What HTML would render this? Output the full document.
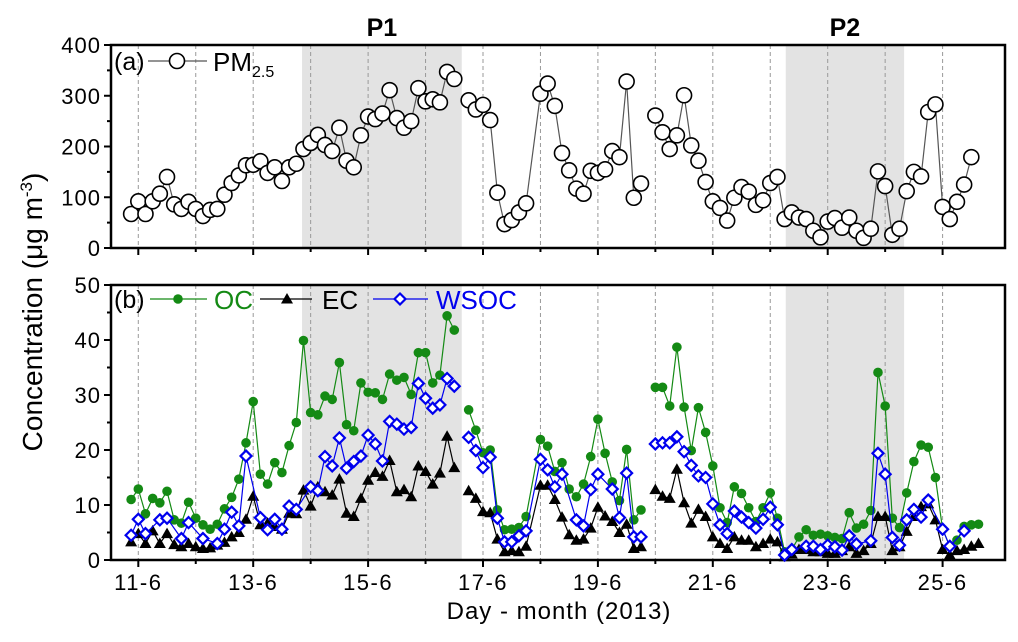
<!DOCTYPE html>
<html><head><meta charset="utf-8"><style>
html,body{margin:0;padding:0;background:#fff;}
svg{display:block;font-family:"Liberation Sans",Arial,sans-serif;}
</style></head><body>
<svg id="chart" width="1018" height="642" viewBox="0 0 1018 642" xmlns="http://www.w3.org/2000/svg"></svg>
<script>
const pm25 = [67,92,67,92,107,140,86,77,91,77,63,75,77,105,128,143,163,164,171,148,159,132,159,166,195,207,223,203,191,237,172,159,222,259,254,265,311,256,237,250,315,289,293,287,347,333,null,291,273,282,252,109,47,55,70,88,null,304,324,280,187,153,117,107,152,148,155,191,179,328,99,127,null,261,228,195,222,301,202,172,130,92,79,54,99,120,111,85,94,128,140,57,70,60,57,34,21,52,59,40,60,34,20,38,151,122,26,38,112,150,141,268,283,81,57,91,125,179];
const oc = [11.0,12.9,8.4,11.2,10.4,12.5,7.3,6.7,10.5,7.6,6.4,5.6,6.5,9.3,11.4,14.7,21.3,28.8,15.6,13.8,17.7,15.9,20.8,25.0,39.9,26.8,26.4,29.8,29.2,35.9,24.6,23.5,32.2,30.5,30.4,29.2,33.8,32.7,33.2,30.1,37.7,37.7,32.2,33.6,44.4,41.8,null,27.3,23.6,19.5,20.0,9.1,5.5,5.6,5.9,7.9,null,21.9,20.7,16.1,17.7,12.9,11.5,13.8,18.8,25.6,19.4,14.2,10.8,20.1,7.3,9.1,null,31.4,31.4,28.0,38.7,27.8,19.9,27.7,23.2,17.1,9.5,6.8,13.3,12.1,9.5,7.0,9.5,12.2,7.6,1.5,1.9,4.2,5.5,4.5,4.7,4.4,4.1,3.9,8.6,5.8,6.5,9.0,34.1,28.0,7.6,5.9,12.2,17.9,20.9,20.5,15.0,5.6,2.5,3.6,6.1,6.4,6.5];
const ec = [3.3,4.8,3.0,5.3,3.0,4.8,2.8,2.4,3.0,2.4,2.1,2.2,2.7,3.2,4.2,5.0,7.4,11.6,6.4,6.7,6.1,5.6,8.5,8.4,12.7,9.8,13.3,12.4,11.8,14.7,8.5,7.9,11.2,14.5,15.9,15.2,18.1,12.4,12.8,11.5,17.1,16.1,13.8,15.8,22.5,16.8,null,12.6,11.2,8.8,8.6,3.8,1.5,1.7,1.5,2.5,null,13.6,13.6,11.0,7.8,4.6,3.6,3.8,5.8,9.6,8.0,7.0,5.0,6.5,2.1,2.4,null,12.8,11.6,11.2,16.5,10.4,6.7,9.2,7.9,4.2,3.0,2.1,4.2,3.6,3.6,2.4,3.0,3.8,3.3,0.6,1.1,1.9,1.9,1.5,1.5,1.2,1.2,1.7,2.4,1.2,1.7,3.0,7.9,7.9,1.7,2.4,5.2,7.9,9.7,10.2,7.3,1.9,0.9,1.7,1.9,2.5,3.0];
const wsoc = [4.5,7.4,4.8,null,7.3,7.6,null,3.9,6.8,null,3.9,null,3.0,5.6,8.7,6.2,18.9,null,7.7,5.5,7.4,5.6,9.8,9.2,null,13.3,12.6,18.8,17.1,22.2,16.7,17.9,18.9,22.7,21.1,18.0,25.2,24.7,23.8,24.1,32.1,29.4,27.6,28.2,33.0,31.6,null,22.3,19.9,16.8,18.7,7.6,3.3,3.3,4.4,5.3,null,18.3,16.4,13.3,15.6,null,7.3,6.2,12.8,15.6,null,12.9,7.7,15.8,4.2,4.2,null,21.1,21.3,21.3,22.4,19.7,17.2,15.3,15.0,10.2,6.4,4.8,8.9,7.8,6.8,5.8,7.4,9.6,6.4,0.9,1.9,null,2.5,2.5,1.9,2.7,2.4,1.8,4.4,2.9,null,3.5,19.4,15.6,4.1,2.7,7.3,9.2,7.8,10.9,null,5.6,2.5,null,5.3,null,null];
const gapIdx = [46,72];
const dayLabels = ["11-6","13-6","15-6","17-6","19-6","21-6","23-6","25-6"];
const pmTicks = [0,100,200,300,400];
const concTicks = [0,10,20,30,40,50];
const periods = [{name:"P1",start:2.85,end:5.63},{name:"P2",start:11.27,end:13.33}];

const NS="http://www.w3.org/2000/svg";
const svg=document.getElementById('chart');
function el(tag,attrs,parent){const e=document.createElementNS(NS,tag);for(const k in attrs)e.setAttribute(k,attrs[k]);(parent||svg).appendChild(e);return e;}
const L=111,R=1005;
const topP={y0:45,y1:248,max:400};
const botP={y0:285,y1:560,max:50};
function xDay(t){return 138.3+57.45*t;}
function xIdx(i){return xDay((i-1)/8);}
function yTop(v){return topP.y1-(topP.y1-topP.y0)*v/topP.max;}
function yBot(v){return botP.y1-(botP.y1-botP.y0)*v/botP.max;}

function panel(P,name){
  const g=el('g',{});
  
  
  periods.forEach(p=>{
    const r=el('rect',{x:xDay(p.start),y:P.y0,width:xDay(p.end)-xDay(p.start),height:P.y1-P.y0,fill:'#e3e3e3'},g);
    
    
  });
  for(let d=0;d<15;d++){
    const x=xDay(d);
    const ln=el('line',{x1:x,x2:x,y1:P.y0,y2:P.y1,stroke:'#999','stroke-width':1,'stroke-dasharray':'4,3'},g);
    
    
    el('line',{x1:x,x2:x,y1:P.y1,y2:P.y1+(d%2===0?7:4),stroke:'#000','stroke-width':2},g);
  }
  const fr=el('rect',{x:L,y:P.y0,width:R-L,height:P.y1-P.y0,fill:'none',stroke:'#000','stroke-width':2.5},g);
  
  
  return g;
}
const gTop=panel(topP,'panel-a');
const gBot=panel(botP,'panel-b');

pmTicks.forEach(v=>{
  const y=yTop(v);
  el('line',{x1:L-7,x2:L,y1:y,y2:y,stroke:'#000','stroke-width':2},gTop);
  const t=el('text',{x:L-10,y:y+8,'font-size':22,'letter-spacing':1,'text-anchor':'end'},gTop);t.textContent=v;
  
  
  if(v<400){const ym=yTop(v+50);el('line',{x1:L-4,x2:L,y1:ym,y2:ym,stroke:'#000','stroke-width':2},gTop);}
});
concTicks.forEach(v=>{
  const y=yBot(v);
  el('line',{x1:L-7,x2:L,y1:y,y2:y,stroke:'#000','stroke-width':2},gBot);
  const t=el('text',{x:L-10,y:y+8,'font-size':22,'letter-spacing':1,'text-anchor':'end'},gBot);t.textContent=v;
  
  
  if(v<50){const ym=yBot(v+5);el('line',{x1:L-4,x2:L,y1:ym,y2:ym,stroke:'#000','stroke-width':2},gBot);}
});
dayLabels.forEach((lab,k)=>{
  const t=el('text',{x:xDay(k*2),y:590,'font-size':22,'letter-spacing':1.5,'text-anchor':'middle'},gBot);t.textContent=lab;
  
  
});
periods.forEach(p=>{
  const t=el('text',{x:(xDay(p.start)+xDay(p.end))/2,y:36,'font-size':25,'font-weight':'bold','text-anchor':'middle'});t.textContent=p.name;
  
  
});

function linePath(arr,yf){
  let d='',pen=false;
  arr.forEach((v,i)=>{
    if(gapIdx.includes(i)){pen=false;return;}
    if(v===null)return;
    d+=(pen?'L':'M')+xIdx(i).toFixed(1)+','+yf(v).toFixed(1);pen=true;
  });
  return d;
}
function drawSeries(g,arr,yf,color,marker,name){
  const sg=el('g',{},g);
  
  
  el('path',{d:linePath(arr,yf),fill:'none',stroke:color,'stroke-width':1.2},sg);
  arr.forEach((v,i)=>{
    if(v===null)return;
    const m=marker(xIdx(i),yf(v),sg);
    
    
  });
}
const circleW=(x,y,g)=>el('circle',{cx:x,cy:y,r:7.5,fill:'#fff',stroke:'#000','stroke-width':1.6},g);
const dotG=(x,y,g)=>el('circle',{cx:x,cy:y,r:4.8,fill:'#148a14'},g);
const tri=(x,y,g)=>el('path',{d:`M${x},${y-6}L${x+6},${y+4.5}L${x-6},${y+4.5}Z`,fill:'#000'},g);
const dia=(x,y,g)=>el('path',{d:`M${x},${y-5.5}L${x+5.5},${y}L${x},${y+5.5}L${x-5.5},${y}Z`,fill:'#fff',stroke:'#0000ee','stroke-width':2.2},g);

drawSeries(gTop,pm25,yTop,'#555',circleW,'pm25');
drawSeries(gBot,oc,yBot,'#148a14',dotG,'oc');
drawSeries(gBot,ec,yBot,'#000',tri,'ec');
drawSeries(gBot,wsoc,yBot,'#0000ee',dia,'wsoc');

function txt(x,y,s,size,fill,name,g){const t=el('text',{x:x,y:y,'font-size':size,fill:fill},g||svg);t.textContent=s;return t;}
const lgA=el('g',{});


txt(114,70,'(a)',25,'#000','panel-label-a',lgA);
el('line',{x1:148,x2:207,y1:61,y2:61,stroke:'#555','stroke-width':1.2},lgA);
circleW(177,61,lgA);
const pmT=txt(213,71,'PM',26,'#000','legend-entry-pm25',lgA);
const sub=el('tspan',{'font-size':16,dy:6},pmT);sub.textContent='2.5';

const lgB=el('g',{});


txt(114,308,'(b)',25,'#000','panel-label-b',lgB);
el('line',{x1:150,x2:207,y1:299,y2:299,stroke:'#148a14','stroke-width':1.2},lgB);
dotG(178,299,lgB);
txt(214,309,'OC',26,'#148a14','legend-entry-oc',lgB);
el('line',{x1:260,x2:312,y1:299,y2:299,stroke:'#000','stroke-width':1.2},lgB);
tri(287,299,lgB);
txt(322,309,'EC',26,'#000','legend-entry-ec',lgB);
el('line',{x1:373,x2:428,y1:299,y2:299,stroke:'#0000ee','stroke-width':1.2},lgB);
dia(400,299,lgB);
txt(436,309,'WSOC',26,'#0000ee','legend-entry-wsoc',lgB);

const yt=el('text',{x:0,y:0,'font-size':28,'text-anchor':'middle',transform:'translate(42,312) rotate(-90)'});
yt.textContent='Concentration (μg m';
const sup=el('tspan',{'font-size':17,dy:-10},yt);sup.textContent='-3';
const cl=el('tspan',{dy:10},yt);cl.textContent=')';


const xt=txt(559,619,'Day - month (2013)',24,'#000','x-axis-title');
xt.setAttribute('text-anchor','middle');
xt.setAttribute('letter-spacing','1');
</script>
</body></html>
